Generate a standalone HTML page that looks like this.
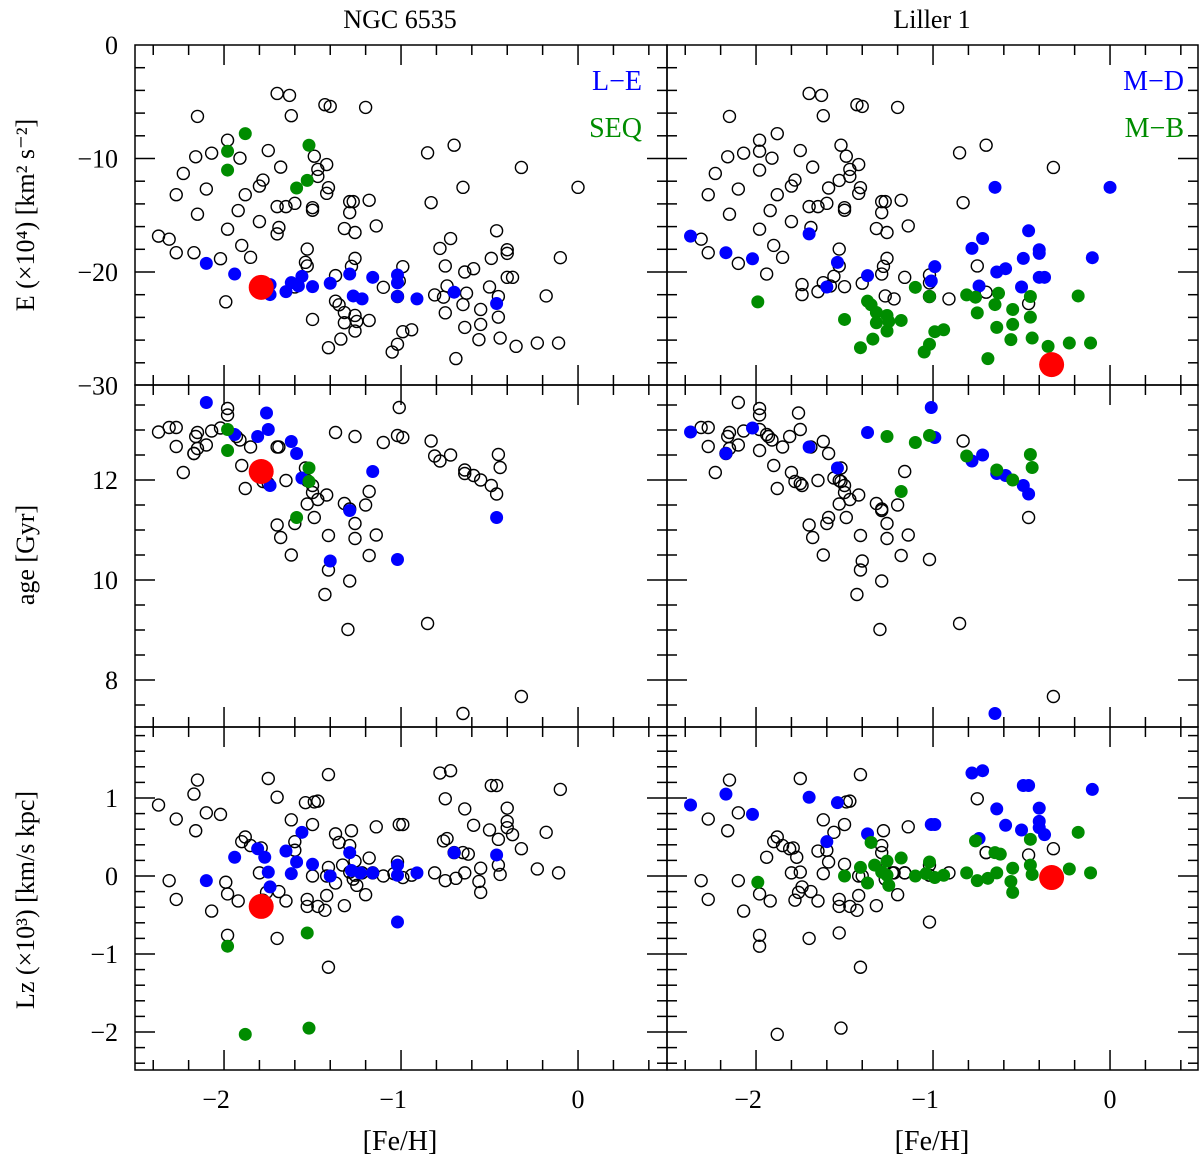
<!DOCTYPE html>
<html><head><meta charset="utf-8"><style>
html,body{margin:0;padding:0;background:#fff}
svg{display:block}
text{font-family:"Liberation Serif",serif;fill:#000}
</style></head><body>
<svg id="chart" width="1200" height="1161" viewBox="0 0 1200 1161" xmlns="http://www.w3.org/2000/svg">
<g id="frames"></g>
<g id="marks"></g>
<text x="400" y="28" font-size="26" text-anchor="middle">NGC 6535</text>
<text x="932" y="28" font-size="26" text-anchor="middle">Liller 1</text>
<text x="400" y="1150" font-size="28" text-anchor="middle">[Fe/H]</text>
<text x="932" y="1150" font-size="28" text-anchor="middle">[Fe/H]</text>
<text transform="translate(34,215) rotate(-90)" font-size="26" text-anchor="middle">E (×10⁴) [km² s⁻²]</text>
<text transform="translate(34,555) rotate(-90)" font-size="26" text-anchor="middle">age [Gyr]</text>
<text transform="translate(34,900) rotate(-90)" font-size="26" text-anchor="middle">Lz (×10³) [km/s kpc]</text>
<text x="642" y="90" font-size="28" text-anchor="end" style="fill:#0000ff">L−E</text>
<text x="642" y="137" font-size="28" text-anchor="end" style="fill:#008c00">SEQ</text>
<text x="1184" y="90" font-size="28" text-anchor="end" style="fill:#0000ff">M−D</text>
<text x="1184" y="137" font-size="28" text-anchor="end" style="fill:#008c00">M−B</text>
</svg>
<script>
// ===== Energy row: [feh, E] =====
const eBase=[[-1.70,-4.27],[-1.63,-4.44],[-1.43,-5.26],[-1.40,-5.41],[-1.20,-5.50],[-2.15,-6.29],[-1.62,-6.23],[-1.98,-8.39],[-2.16,-9.85],[-2.07,-9.53],[-1.91,-9.97],[-1.75,-9.30],[-1.49,-9.80],[-1.42,-10.53],[-1.68,-10.76],[-2.23,-11.32],[-1.47,-10.96],[-1.47,-11.58],[-1.78,-11.90],[-1.80,-12.43],[-2.10,-12.69],[-2.27,-13.19],[-1.88,-13.19],[-1.41,-12.57],[-1.42,-13.07],[-1.60,-13.95],[-1.70,-14.24],[-1.65,-14.24],[-1.50,-14.33],[-1.50,-14.56],[-1.29,-13.80],[-1.27,-13.80],[-1.18,-13.68],[-1.29,-14.77],[-2.15,-14.91],[-1.92,-14.59],[-1.80,-15.56],[-1.98,-16.23],[-1.69,-16.08],[-1.32,-16.17],[-1.26,-16.52],[-1.14,-15.94],[-2.31,-17.11],[-2.27,-18.30],[-1.90,-17.66],[-1.85,-18.71],[-1.53,-17.98],[-1.53,-19.47],[-1.26,-18.80],[-1.28,-19.50],[-0.85,-9.50],[-0.70,-8.83],[-0.83,-13.89],[-0.32,-10.79],[-0.75,-19.47]];
const eLE=[[-2.10,-19.24],[-1.94,-20.18],[-1.74,-21.11],[-1.74,-21.99],[-1.65,-21.73],[-1.62,-20.94],[-1.58,-21.23],[-1.56,-20.38],[-1.50,-21.29],[-1.40,-20.99],[-1.29,-20.18],[-1.27,-22.11],[-1.22,-22.37],[-1.16,-20.47],[-1.02,-20.26],[-1.02,-20.96],[-1.02,-22.16],[-0.91,-22.37],[-0.70,-21.78],[-0.46,-22.78]];
const eSEQ=[[-1.88,-7.81],[-1.98,-9.36],[-1.98,-11.02],[-1.52,-8.83],[-1.59,-12.60],[-1.53,-11.93]];
const eMD=[[-2.37,-16.84],[-2.17,-18.30],[-2.02,-18.83],[-1.70,-16.64],[-1.54,-19.15],[-1.60,-21.32],[-1.37,-20.32],[-0.99,-19.53],[-1.01,-20.79],[-0.65,-12.54],[0.00,-12.54],[-0.46,-16.37],[-0.72,-17.05],[-0.78,-17.92],[-0.40,-18.04],[-0.40,-18.36],[-0.49,-18.80],[-0.10,-18.74],[-0.64,-20.0],[-0.59,-19.71],[-0.40,-20.47],[-0.37,-20.47],[-0.74,-21.23],[-0.50,-21.32]];
const eMB=[[-1.99,-22.63],[-1.50,-24.18],[-1.37,-22.57],[-1.35,-22.89],[-1.32,-23.57],[-1.26,-23.83],[-1.25,-24.36],[-1.32,-24.47],[-1.34,-25.91],[-1.41,-26.67],[-1.18,-24.27],[-1.26,-25.20],[-1.10,-21.35],[-1.02,-22.16],[-0.99,-25.26],[-0.94,-25.09],[-1.02,-26.37],[-1.05,-27.05],[-0.81,-22.02],[-0.76,-22.22],[-0.63,-21.87],[-0.65,-22.87],[-0.55,-23.30],[-0.75,-23.60],[-0.45,-22.16],[-0.45,-23.98],[-0.55,-24.62],[-0.64,-24.88],[-0.56,-25.96],[-0.44,-25.82],[-0.35,-26.55],[-0.23,-26.26],[-0.11,-26.26],[-0.69,-27.63],[-0.18,-22.11]];
const eTargetLeft=[-1.79,-21.35];
const eTargetRight=[-0.33,-28.16];
// ===== Age row: [feh, age] =====
const aBase=[[-1.98,13.43],[-1.98,13.30],[-2.31,13.05],[-2.27,13.05],[-2.15,12.95],[-2.16,12.87],[-2.07,12.98],[-2.10,12.70],[-2.15,12.63],[-2.17,12.53],[-2.27,12.67],[-2.23,12.15],[-1.91,12.80],[-1.85,12.66],[-1.69,12.66],[-1.90,12.29],[-1.88,11.83],[-1.65,11.99],[-1.53,11.99],[-1.50,11.89],[-1.50,11.75],[-1.47,11.61],[-1.42,11.70],[-1.53,11.52],[-1.49,11.25],[-1.60,11.13],[-1.70,11.10],[-1.68,10.85],[-1.62,10.50],[-1.41,10.89],[-1.26,10.83],[-1.26,11.13],[-1.32,11.53],[-1.29,11.42],[-1.20,11.50],[-1.14,10.90],[-1.18,10.49],[-1.41,10.20],[-1.29,9.98],[-1.43,9.71],[-1.30,9.01],[-0.85,9.13],[-0.32,7.67],[-0.83,12.78],[-1.80,12.15],[-1.78,11.97],[-1.75,11.93],[-1.93,12.87]];
const aLE=[[-2.10,13.55],[-1.76,13.34],[-1.75,13.01],[-1.81,12.87],[-1.94,12.91],[-1.62,12.77],[-1.59,12.53],[-1.74,11.89],[-1.56,12.04],[-1.29,11.39],[-1.16,12.17],[-0.46,11.25],[-1.40,10.38],[-1.02,10.41]];
const aSEQ=[[-1.98,13.01],[-1.98,12.59],[-1.52,12.24],[-1.52,11.97],[-1.59,11.25]];
const aMD=[[-2.37,12.96],[-2.17,12.53],[-2.02,13.04],[-1.70,12.66],[-1.54,12.24],[-1.37,12.95],[-1.01,13.45],[-0.99,12.85],[-0.72,12.50],[-0.78,12.38],[-0.64,12.13],[-0.59,12.09],[-0.49,11.89],[-0.46,11.72],[-0.65,7.33]];
const aMB=[[-1.26,12.87],[-1.10,12.75],[-1.02,12.89],[-0.81,12.48],[-0.64,12.20],[-0.55,12.00],[-0.45,12.51],[-0.44,12.25],[-1.18,11.77]];
const aTargetLeft=[-1.79,12.17];
// ===== Lz row: [feh, Lz] =====
const lBase=[[-2.15,1.23],[-1.75,1.25],[-1.41,1.30],[-1.49,0.95],[-1.47,0.96],[-2.27,0.73],[-2.10,0.81],[-2.16,0.58],[-1.62,0.72],[-1.50,0.66],[-1.28,0.58],[-1.14,0.63],[-0.75,0.99],[-1.88,0.50],[-1.90,0.44],[-1.85,0.39],[-1.79,0.36],[-1.60,0.33],[-1.29,0.39],[-0.70,0.30],[-0.32,0.35],[-1.80,0.04],[-1.42,0.00],[-1.27,-0.04],[-1.16,0.04],[-1.22,0.04],[-2.31,-0.06],[-1.98,-0.23],[-1.92,-0.32],[-1.76,-0.21],[-1.69,-0.20],[-1.78,-0.31],[-1.65,-0.32],[-1.53,-0.30],[-1.53,-0.39],[-1.47,-0.39],[-1.43,-0.44],[-1.42,-0.25],[-1.32,-0.38],[-1.20,-0.24],[-2.27,-0.30],[-2.07,-0.45],[-1.98,-0.76],[-1.70,-0.80],[-1.41,-1.17]];
const lLE=[[-1.94,0.24],[-2.10,-0.06],[-1.81,0.35],[-1.77,0.24],[-1.75,0.05],[-1.74,-0.14],[-1.65,0.32],[-1.62,0.03],[-1.59,0.18],[-1.56,0.56],[-1.50,0.15],[-1.40,0.00],[-1.29,0.30],[-1.28,0.07],[-1.23,0.04],[-1.16,0.04],[-1.02,0.14],[-1.02,0.01],[-0.91,0.04],[-0.70,0.30],[-0.46,0.27],[-1.02,-0.59]];
const lSEQ=[[-1.98,-0.90],[-1.53,-0.73],[-1.88,-2.03],[-1.52,-1.95]];
const lMD=[[-2.37,0.91],[-2.17,1.05],[-2.02,0.79],[-1.70,1.01],[-1.54,0.94],[-1.60,0.44],[-1.37,0.54],[-1.01,0.66],[-0.99,0.66],[-0.78,1.32],[-0.72,1.35],[-0.64,0.86],[-0.59,0.65],[-0.50,0.59],[-0.49,1.16],[-0.46,1.16],[-0.40,0.87],[-0.40,0.70],[-0.40,0.62],[-0.37,0.53],[-0.10,1.11],[-0.74,0.48]];
const lMB=[[-1.99,-0.08],[-1.50,0.00],[-1.41,0.11],[-1.37,-0.09],[-1.35,0.43],[-1.33,0.14],[-1.29,0.05],[-1.26,0.19],[-1.26,0.01],[-1.25,-0.12],[-1.18,0.23],[-1.10,0.00],[-1.02,0.18],[-1.04,0.03],[-0.99,-0.02],[-0.94,0.01],[-0.81,0.04],[-0.76,0.45],[-0.75,-0.06],[-0.69,-0.03],[-0.65,0.30],[-0.62,0.28],[-0.64,0.04],[-0.55,0.10],[-0.56,-0.07],[-0.55,-0.21],[-0.45,0.47],[-0.45,0.14],[-0.44,0.02],[-0.23,0.09],[-0.18,0.56],[-0.11,0.04]];
const lTargetLeft=[-1.79,-0.39];
const lTargetRight=[-0.33,-0.02];
// tick labels
const xTickVals=[-2,-1,0];
const eTickVals=[0,-10,-20,-30];
const aTickVals=[12,10,8];
const lTickVals=[1,0,-1,-2];

const NS='http://www.w3.org/2000/svg';
const BLUE='#0000ff',GREEN='#008c00',RED='#ff0000';
const PX0=[135,667], PW=532, XS=177;
function xS(side,f){return PX0[side]+(f+2.503)*XS;}
const rows=[
 {top:45,bot:385,y:v=>45+(-v)*11.35,min:-30,max:0,major:10,minor:2},
 {top:385,bot:727,y:v=>385+(13.9-v)*50,min:7.06,max:13.9,major:2,minor:0.5},
 {top:727,bot:1070,y:v=>876-v*78,min:-2.49,max:1.91,major:1,minor:0.2}
];
const frames=document.getElementById('frames'), marks=document.getElementById('marks');
function el(tag,attrs,parent){const e=document.createElementNS(NS,tag);for(const k in attrs)e.setAttribute(k,attrs[k]);parent.appendChild(e);return e;}

rows.forEach((r,ri)=>{
 [0,1].forEach(side=>{
  const x0=PX0[side],x1=x0+PW+(side===1?-1:0);
  const fr=el('rect',{x:x0,y:r.top,width:x1-x0,height:r.bot-r.top,fill:'none',stroke:'#000','stroke-width':1.5},frames);
  
  
  for(let k=-13;k<=3;k++){const f=k*0.2;const x=xS(side,f);if(x<=x0+1||x>=x1-1)continue;
   const maj=Math.abs(f-Math.round(f))<1e-6;const L=maj?20:10;
   el('line',{x1:x,y1:r.top,x2:x,y2:r.top+L,stroke:'#000','stroke-width':1.5},frames);
   el('line',{x1:x,y1:r.bot,x2:x,y2:r.bot-L,stroke:'#000','stroke-width':1.5},frames);}
  const n0=Math.ceil(r.min/r.minor-1e-6),n1=Math.floor(r.max/r.minor+1e-6);
  for(let k=n0;k<=n1;k++){const v=k*r.minor;const y=r.y(v);if(y<=r.top+1||y>=r.bot-1)continue;
   const q=v/r.major;const maj=Math.abs(q-Math.round(q))<1e-6;const L=maj?20:10;
   el('line',{x1:x0,y1:y,x2:x0+L,y2:y,stroke:'#000','stroke-width':1.5},frames);
   el('line',{x1:x1,y1:y,x2:x1-L,y2:y,stroke:'#000','stroke-width':1.5},frames);}
 });
});
function fmt(v){return v<0?'−'+Math.abs(v):String(v);}
function yLabel(v,y,name){const t=el('text',{x:118,y:y+9,'font-size':26,'text-anchor':'end'},frames);t.textContent=fmt(v);
 
 }
eTickVals.forEach(v=>yLabel(v,rows[0].y(v),'energy-tick-label'));
aTickVals.forEach(v=>yLabel(v,rows[1].y(v),'age-tick-label'));
lTickVals.forEach(v=>yLabel(v,rows[2].y(v),'lz-tick-label'));
[0,1].forEach(side=>xTickVals.forEach(v=>{const t=el('text',{x:xS(side,v)-(v<0?8:0),y:1108,'font-size':26,'text-anchor':'middle'},frames);t.textContent=fmt(v);
 
 }));

function open(side,row,arr){arr.forEach(p=>{const c=el('circle',{cx:xS(side,p[0]),cy:rows[row].y(p[1]),r:6,fill:'none',stroke:'#000','stroke-width':1.4},marks);
 
 });}
function fill(side,row,arr,col,r,name){arr.forEach(p=>{const c=el('circle',{cx:xS(side,p[0]),cy:rows[row].y(p[1]),r:r,fill:col},marks);
 
 });}
const sets=[[eBase,eLE,eSEQ,eMD,eMB],[aBase,aLE,aSEQ,aMD,aMB],[lBase,lLE,lSEQ,lMD,lMB]];
sets.forEach((s,ri)=>{
 const [b,le,seq,md,mb]=s;
 open(0,ri,b);open(0,ri,md);open(0,ri,mb);
 fill(0,ri,le,BLUE,6.5,'l-e-point');fill(0,ri,seq,GREEN,6.5,'seq-point');
 open(1,ri,b);open(1,ri,le);open(1,ri,seq);
 fill(1,ri,md,BLUE,6.5,'m-d-point');fill(1,ri,mb,GREEN,6.5,'m-b-point');
});
fill(0,0,[eTargetLeft],RED,12.5,'ngc6535-point');
fill(0,1,[aTargetLeft],RED,12.5,'ngc6535-point');
fill(0,2,[lTargetLeft],RED,12.5,'ngc6535-point');
fill(1,0,[eTargetRight],RED,12.5,'liller1-point');
fill(1,2,[lTargetRight],RED,12.5,'liller1-point');
</script>
</body></html>
